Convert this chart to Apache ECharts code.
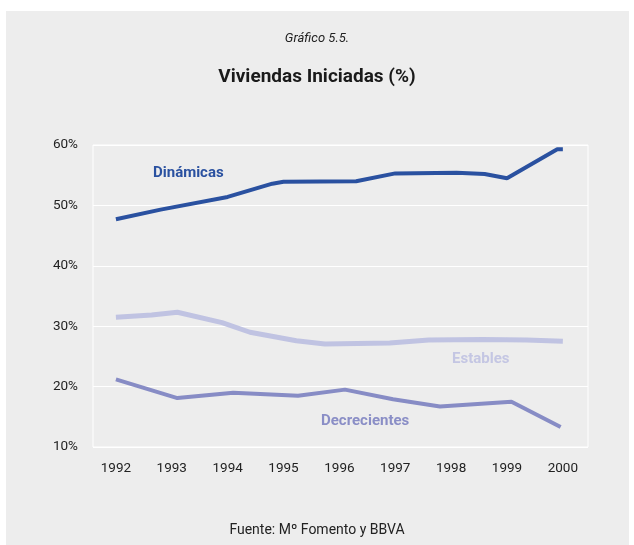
<!DOCTYPE html>
<html>
<head>
<meta charset="utf-8">
<script src="https://cdn.jsdelivr.net/npm/echarts@6/dist/echarts.min.js"></script>
<style>
  html, body { margin: 0; padding: 0; background: #fff; }
  #chart { width: 634px; height: 545px; }
</style>
</head>
<body>
<div id="chart"></div>
<script>
// años del eje
const years = [1992, 1993, 1994, 1995, 1996, 1997, 1998, 1999, 2000];

// Dinámicas
const dinamicasX = [1992, 1992.8, 1994, 1994.8, 1995, 1996.3, 1997, 1998.1, 1998.6, 1999, 1999.9, 2000];
const dinamicasY = [47.7, 49.3, 51.4, 53.6, 53.9, 54.0, 55.3, 55.4, 55.2, 54.5, 59.3, 59.3];

// Estables
const establesX = [1992, 1992.64, 1993.1, 1993.9, 1994.4, 1995.23, 1995.74, 1996.9, 1997.6, 1998.57, 1999.35, 2000];
const establesY = [31.5, 31.85, 32.3, 30.6, 29.0, 27.6, 27.05, 27.2, 27.7, 27.8, 27.7, 27.5];

// Decrecientes
const decrecientesX = [1992, 1993.1, 1994.1, 1995.26, 1996.1, 1996.96, 1997.8, 1999.08, 1999.96];
const decrecientesY = [21.2, 18.1, 19.0, 18.5, 19.5, 17.9, 16.7, 17.5, 13.3];

const zip = (xs, ys) => xs.map((x, i) => [x, ys[i]]);

const font = 'Roboto, sans-serif';

const chart = echarts.init(document.getElementById('chart'));

chart.setOption({
  backgroundColor: '#fff',
  animation: false,
  textStyle: { fontFamily: font },
  title: [
    {
      text: 'Gráfico 5.5.',
      left: 'center',
      top: 27,
      textStyle: { fontFamily: font, fontStyle: 'italic', fontWeight: 'normal', fontSize: 13, color: '#222' }
    },
    {
      text: 'Viviendas Iniciadas (%)',
      left: 'center',
      top: 63,
      textStyle: { fontFamily: font, fontWeight: 'bold', fontSize: 19, color: '#1a1a1a' }
    },
    {
      text: 'Fuente: Mº Fomento y BBVA',
      left: 'center',
      top: 518,
      textStyle: { fontFamily: font, fontWeight: 'normal', fontSize: 14, color: '#222' }
    }
  ],
  graphic: [
    {
      type: 'rect',
      z: -10,
      silent: true,
      shape: { x: 6, y: 11, width: 623, height: 534 },
      style: { fill: '#ededed' }
    },
    {
      type: 'text', left: 153, top: 166,
      style: { text: 'Dinámicas', font: 'bold 15px ' + font, fill: '#2a51a0' }
    },
    {
      type: 'text', left: 452, top: 352,
      style: { text: 'Estables', font: 'bold 15px ' + font, fill: '#c4c6e3' }
    },
    {
      type: 'text', left: 321, top: 414,
      style: { text: 'Decrecientes', font: 'bold 15px ' + font, fill: '#8a8ec6' }
    }
  ],
  grid: {
    left: 93,
    right: 46,
    top: 145,
    bottom: 98,
    show: true,
    borderColor: '#fff',
    borderWidth: 1,
    backgroundColor: 'transparent'
  },
  xAxis: {
    type: 'value',
    min: 1991.59,
    max: 2000.45,
    axisLine: { show: false },
    axisTick: { show: false },
    splitLine: { show: false },
    axisLabel: {
      customValues: years,
      formatter: v => String(v),
      margin: 15,
      fontSize: 13.5,
      color: '#222',
      fontFamily: font
    }
  },
  yAxis: {
    type: 'value',
    min: 10,
    max: 60,
    interval: 10,
    axisLine: { show: false },
    axisTick: { show: false },
    splitLine: { lineStyle: { color: '#fff', width: 1 } },
    axisLabel: {
      formatter: '{value}%',
      margin: 15,
      fontSize: 13.5,
      color: '#222',
      fontFamily: font
    }
  },
  series: [
    {
      name: 'Dinámicas',
      type: 'line',
      data: zip(dinamicasX, dinamicasY),
      showSymbol: false,
      lineStyle: { color: '#2a51a0', width: 4 }
    },
    {
      name: 'Estables',
      type: 'line',
      data: zip(establesX, establesY),
      showSymbol: false,
      lineStyle: { color: '#c0c3e2', width: 5 }
    },
    {
      name: 'Decrecientes',
      type: 'line',
      data: zip(decrecientesX, decrecientesY),
      showSymbol: false,
      lineStyle: { color: '#878cc5', width: 4 }
    }
  ]
});
</script>
</body>
</html>
